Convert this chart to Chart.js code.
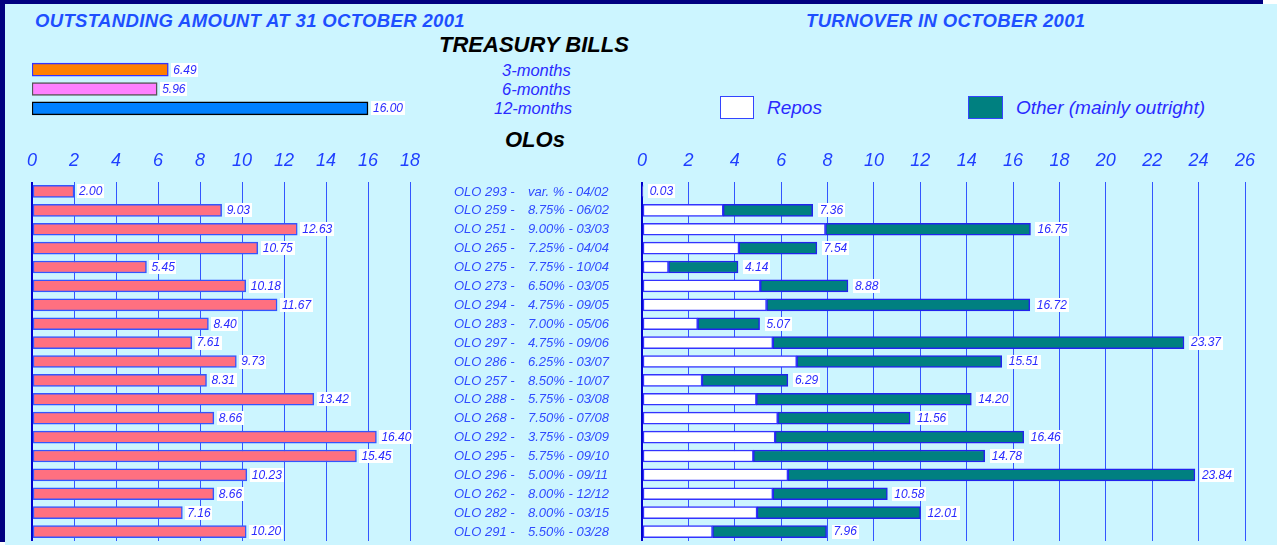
<!DOCTYPE html>
<html>
<head>
<meta charset="utf-8">
<script src="https://cdn.jsdelivr.net/npm/chart.js@4.4.1/dist/chart.umd.min.js"></script>
<style>
  html,body{margin:0;padding:0;background:#fff;width:1277px;height:545px;overflow:hidden;}
  body{position:relative;font-family:"Liberation Sans",Arial,sans-serif;}
  #bg{position:absolute;left:5px;top:4px;width:1272px;height:541px;background:#ccf5ff;}
  #navyTop{position:absolute;left:0;top:0;width:1263px;height:4px;background:#000080;}
  #navyLeft{position:absolute;left:0;top:0;width:5px;height:542px;background:#000080;}
  .t{position:absolute;white-space:nowrap;font-style:italic;line-height:1.15;}
  canvas{position:absolute;}
  .box{position:absolute;border:1.5px solid #3344ff;box-sizing:border-box;}
</style>
</head>
<body>
<div id="bg"></div>
<div id="navyTop"></div>
<div id="navyLeft"></div>

<div class="t" style="left:35px;top:10px;font-size:18.5px;letter-spacing:0.35px;font-weight:bold;color:#1e4fff;">OUTSTANDING AMOUNT AT 31 OCTOBER 2001</div>
<div class="t" style="left:806px;top:10px;font-size:18.5px;letter-spacing:0.35px;font-weight:bold;color:#1e4fff;">TURNOVER IN OCTOBER 2001</div>
<div class="t" style="left:439px;top:32px;font-size:22px;font-weight:bold;color:#000;">TREASURY BILLS</div>
<div class="t" style="left:505px;top:127px;font-size:22px;font-weight:bold;color:#000;">OLOs</div>
<div class="t" style="left:502px;top:61px;font-size:16.5px;color:#2a2aff;">3-months</div>
<div class="t" style="left:502px;top:80px;font-size:16.5px;color:#2a2aff;">6-months</div>
<div class="t" style="left:494px;top:99px;font-size:16.5px;color:#2a2aff;">12-months</div>

<div class="box" style="left:720px;top:96px;width:34px;height:23px;background:#fff;"></div>
<div class="t" style="left:767px;top:97px;font-size:19px;color:#2a2aff;">Repos</div>
<div class="box" style="left:968px;top:96px;width:35px;height:23px;background:#008080;"></div>
<div class="t" style="left:1016px;top:97px;font-size:19px;color:#2a2aff;">Other (mainly outright)</div>

<canvas id="tbChart" style="left:0;top:60px;width:440px;height:58px;" width="440" height="58"></canvas>
<canvas id="oloChart" style="left:0;top:140px;width:440px;height:405px;" width="440" height="405"></canvas>
<canvas id="turnChart" style="left:420px;top:140px;width:857px;height:405px;" width="857" height="405"></canvas>

<script>
// ---------- DATA ----------
const tbCategories = ["3-months", "6-months", "12-months"];
const tbValues = [6.49, 5.96, 16.00];

const oloCodes = ["OLO 293 -","OLO 259 -","OLO 251 -","OLO 265 -","OLO 275 -","OLO 273 -","OLO 294 -","OLO 283 -","OLO 297 -","OLO 286 -","OLO 257 -","OLO 288 -","OLO 268 -","OLO 292 -","OLO 295 -","OLO 296 -","OLO 262 -","OLO 282 -","OLO 291 -"];
const oloTerms = ["var. % - 04/02","8.75% - 06/02","9.00% - 03/03","7.25% - 04/04","7.75% - 10/04","6.50% - 03/05","4.75% - 09/05","7.00% - 05/06","4.75% - 09/06","6.25% - 03/07","8.50% - 10/07","5.75% - 03/08","7.50% - 07/08","3.75% - 03/09","5.75% - 09/10","5.00% - 09/11","8.00% - 12/12","8.00% - 03/15","5.50% - 03/28"];

const outstanding = [2.00, 9.03, 12.63, 10.75, 5.45, 10.18, 11.67, 8.40, 7.61, 9.73, 8.31, 13.42, 8.66, 16.40, 15.45, 10.23, 8.66, 7.16, 10.20];

const repos = [0.03, 3.50, 7.91, 4.18, 1.14, 5.10, 5.37, 2.40, 5.64, 6.67, 2.59, 4.93, 5.85, 5.74, 4.80, 6.29, 5.64, 4.96, 3.04];
const other = [0.00, 3.86, 8.84, 3.36, 3.00, 3.78, 11.35, 2.67, 17.73, 8.84, 3.70, 9.27, 5.71, 10.72, 9.98, 17.55, 4.94, 7.05, 4.92];

const leftTicks = [0, 2, 4, 6, 8, 10, 12, 14, 16, 18];
const rightTicks = [0, 2, 4, 6, 8, 10, 12, 14, 16, 18, 20, 22, 24, 26];

// ---------- STYLE ----------
const FONT = '"Liberation Sans", Arial, sans-serif';
const TXT = '#2a2aff';
const GRID = '#3355ff';

const valueLabels = {
  id: 'valueLabels',
  afterDatasetsDraw(chart, args, opts) {
    const ctx = chart.ctx;
    const meta = chart.getDatasetMeta(chart.data.datasets.length - 1);
    ctx.save();
    ctx.font = 'italic 12px ' + FONT;
    ctx.textBaseline = 'middle';
    meta.data.forEach((bar, i) => {
      const txt = opts.texts[i];
      const x = bar.x + opts.gap;
      const y = bar.y;
      const w = ctx.measureText(txt).width;
      ctx.fillStyle = '#ffffff';
      ctx.fillRect(Math.round(x - 2), Math.round(y - 7), Math.round(w + 4), 14);
      ctx.fillStyle = TXT;
      ctx.fillText(txt, x, y + 0.5);
    });
    ctx.restore();
  }
};

const oloNames = {
  id: 'oloNames',
  afterDraw(chart) {
    const ctx = chart.ctx;
    const ys = chart.scales.y;
    ctx.save();
    ctx.font = 'italic 13px ' + FONT;
    ctx.textBaseline = 'middle';
    ctx.fillStyle = '#2f4bff';
    oloCodes.forEach((c, i) => {
      const y = ys.getPixelForValue(i) + 0.5;
      ctx.fillText(c, 34, y);
      ctx.fillText(oloTerms[i], 108, y);
    });
    ctx.restore();
  }
};

function xAxis(max, ticksArr) {
  return {
    type: 'linear', position: 'top', min: 0, max: max,
    afterBuildTicks: s => { s.ticks = ticksArr.map(v => ({ value: v })); },
    afterFit: s => { s.height = 42; },
    border: { display: false },
    grid: {
      drawTicks: false,
      color: ctx => ctx.tick && ctx.tick.value === 0 ? '#0000cc' : GRID,
      lineWidth: ctx => ctx.tick && ctx.tick.value === 0 ? 2 : 1
    },
    ticks: {
      padding: 10,
      color: '#1f3fff',
      font: { family: FONT, size: 18, style: 'italic' },
      maxRotation: 0, autoSkip: false
    }
  };
}

Chart.defaults.animation = false;
Chart.defaults.responsive = false;

// Treasury bills
new Chart(document.getElementById('tbChart'), {
  type: 'bar',
  data: {
    labels: tbCategories,
    datasets: [{
      data: tbValues,
      backgroundColor: ['#ff8000', '#ff80ff', '#0080ff'],
      borderColor: ['#3333ff', '#555555', '#000000'],
      borderWidth: 1.5,
      barThickness: 13,
      borderSkipped: false
    }]
  },
  options: {
    indexAxis: 'y',
    layout: { padding: { left: 32, right: 30, top: 0, bottom: 0 } },
    plugins: { legend: { display: false }, tooltip: { enabled: false },
      valueLabels: { gap: 5, texts: tbValues.map(v => v.toFixed(2)) } },
    scales: {
      x: { type: 'linear', min: 0, max: 18, display: false },
      y: { display: false }
    }
  },
  plugins: [valueLabels]
});

// OLO outstanding
new Chart(document.getElementById('oloChart'), {
  type: 'bar',
  data: {
    labels: oloCodes.map((c, i) => c + ' ' + oloTerms[i]),
    datasets: [{
      data: outstanding,
      backgroundColor: '#ff7080',
      borderColor: '#3355ff',
      borderWidth: 1.5,
      barThickness: 12,
      borderSkipped: false
    }]
  },
  options: {
    indexAxis: 'y',
    layout: { padding: { left: 32, right: 30, top: 0, bottom: 4 } },
    plugins: { legend: { display: false }, tooltip: { enabled: false },
      valueLabels: { gap: 5, texts: outstanding.map(v => v.toFixed(2)) } },
    scales: {
      x: xAxis(18, leftTicks),
      y: { display: false }
    }
  },
  plugins: [valueLabels]
});

// Turnover
new Chart(document.getElementById('turnChart'), {
  type: 'bar',
  data: {
    labels: oloCodes.map((c, i) => c + ' ' + oloTerms[i]),
    datasets: [
      { label: 'Repos', data: repos, backgroundColor: '#ffffff', borderColor: '#3333ff',
        borderWidth: 1.5, barThickness: 12, borderSkipped: false },
      { label: 'Other (mainly outright)', data: other, backgroundColor: '#008080', borderColor: '#2222ee',
        borderWidth: 1.5, barThickness: 12, borderSkipped: false }
    ]
  },
  options: {
    indexAxis: 'y',
    layout: { padding: { left: 222, right: 32, top: 0, bottom: 4 } },
    plugins: { legend: { display: false }, tooltip: { enabled: false },
      valueLabels: { gap: 7, texts: repos.map((r, i) => (r + other[i]).toFixed(2)) } },
    scales: {
      x: Object.assign(xAxis(26, rightTicks), { stacked: true }),
      y: { display: false, stacked: true }
    }
  },
  plugins: [valueLabels, oloNames]
});
</script>
</body>
</html>
